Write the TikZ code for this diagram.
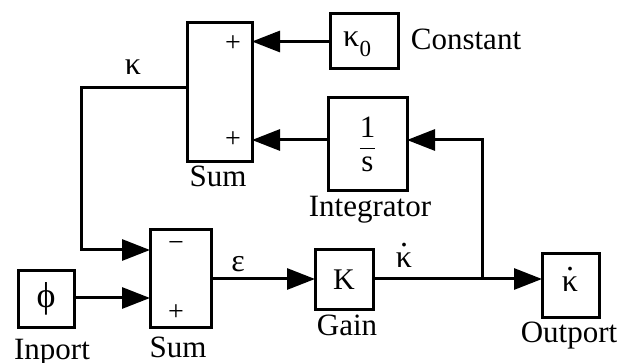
\documentclass[tikz,border=0pt]{standalone}
\usepackage{fontspec}
\setmainfont{Liberation Serif}
\usetikzlibrary{arrows.meta}
\newcommand{\kdt}{\ooalign{κ\cr\hidewidth\raisebox{0.66em}{.}\hidewidth\cr}}
\begin{document}
\begin{tikzpicture}[x=1pt,y=-1pt,
  blk/.style={draw,line width=3pt,inner sep=0pt},
  lbl/.style={font=\fontsize{31}{31}\selectfont,inner sep=0pt,anchor=base},
  grk/.style={font=\fontsize{32}{32}\selectfont,inner sep=0pt},
  sgn/.style={font=\fontsize{28}{28}\selectfont,inner sep=0pt},
  arr/.style={line width=3pt,-{Triangle[length=28pt,width=21pt]}}]
\useasboundingbox (0,0) rectangle (621,363);
% blocks
\node[blk,minimum width=65pt,minimum height=139pt] (sumA) at (219.5,92.5) {};
\node[blk,minimum width=68pt,minimum height=55pt] (const) at (364,41.5) {};
\node[grk,anchor=base west] (kc) at (343,47) {κ};
\node[inner sep=0pt,anchor=base west,font=\fontsize{23}{23}\selectfont] (kc0) at (kc.base east) {\raisebox{-10pt}{0}};
\node[blk,minimum width=79pt,minimum height=93pt] (integ) at (367.5,144.5) {\fontsize{31}{31}\selectfont$\displaystyle\frac{\hbox{1}}{\hbox{s}}$};
\node[blk,minimum width=61pt,minimum height=97pt] (sumB) at (180.5,278.5) {};
\node[blk,minimum width=56pt,minimum height=56pt,font=\fontsize{36}{36}\selectfont] (inport) at (46,299) {ϕ};
\node[blk,minimum width=58pt,minimum height=60pt,font=\fontsize{30}{30}\selectfont] (gain) at (344,280) {K};
\node[blk,minimum width=57pt,minimum height=63pt] (outport) at (570.5,285.5) {};
\node[grk,anchor=base] (ko) at (570,292) {\kdt};
% signs
\node[sgn] (pA1) at (233,44) {+};
\node[sgn] (pA2) at (233,140) {+};
\node[sgn] (mB1) at (176,247) {−};
\node[sgn] (pB2) at (176,313) {+};
% labels
\node[lbl] (tConst) at (466,50) {Constant};
\node[lbl] (tSumA) at (218,187) {Sum};
\node[lbl] (tInteg) at (370,217) {Integrator};
\node[lbl] (tSumB) at (178,357) {Sum};
\node[lbl] (tInport) at (52,359) {Inport};
\node[lbl] (tGain) at (347,335) {Gain};
\node[lbl] (tOut) at (569,342) {Outport};
\node[grk,anchor=base] (tk) at (133,75) {κ};
\node[grk,anchor=base] (te) at (238,272) {ε};
\node[grk,anchor=base] (tkd) at (404,268) {\kdt};
% coordinates
\coordinate (cA) at (252,41.5);
\coordinate (cB) at (252,140);
\coordinate (kOut) at (187,88);
\coordinate (k1) at (81,88);
\coordinate (k2) at (81,250);
\coordinate (kIn) at (150,250);
\coordinate (br) at (482,279);
\coordinate (brTop) at (482,140);
\coordinate (iIn) at (407,140);
\coordinate (iOut) at (328,140);
\coordinate (eOut) at (211,279);
\coordinate (gIn) at (315,279);
\coordinate (gOut) at (373,279);
\coordinate (oIn) at (542,279);
\coordinate (phOut) at (76,298);
\coordinate (phIn) at (150,298);
% connectors
\draw[arr] (const.west) -- (cA);
\draw[arr] (iOut) -- (cB);
\draw[arr] (kOut) -- (k1) -- (k2) -- (kIn);
\draw[arr] (phOut) -- (phIn);
\draw[arr] (eOut) -- (gIn);
\draw[arr] (gOut) -- (oIn);
\draw[arr] (br) -- (brTop) -- (iIn);
\end{tikzpicture}
\end{document}
